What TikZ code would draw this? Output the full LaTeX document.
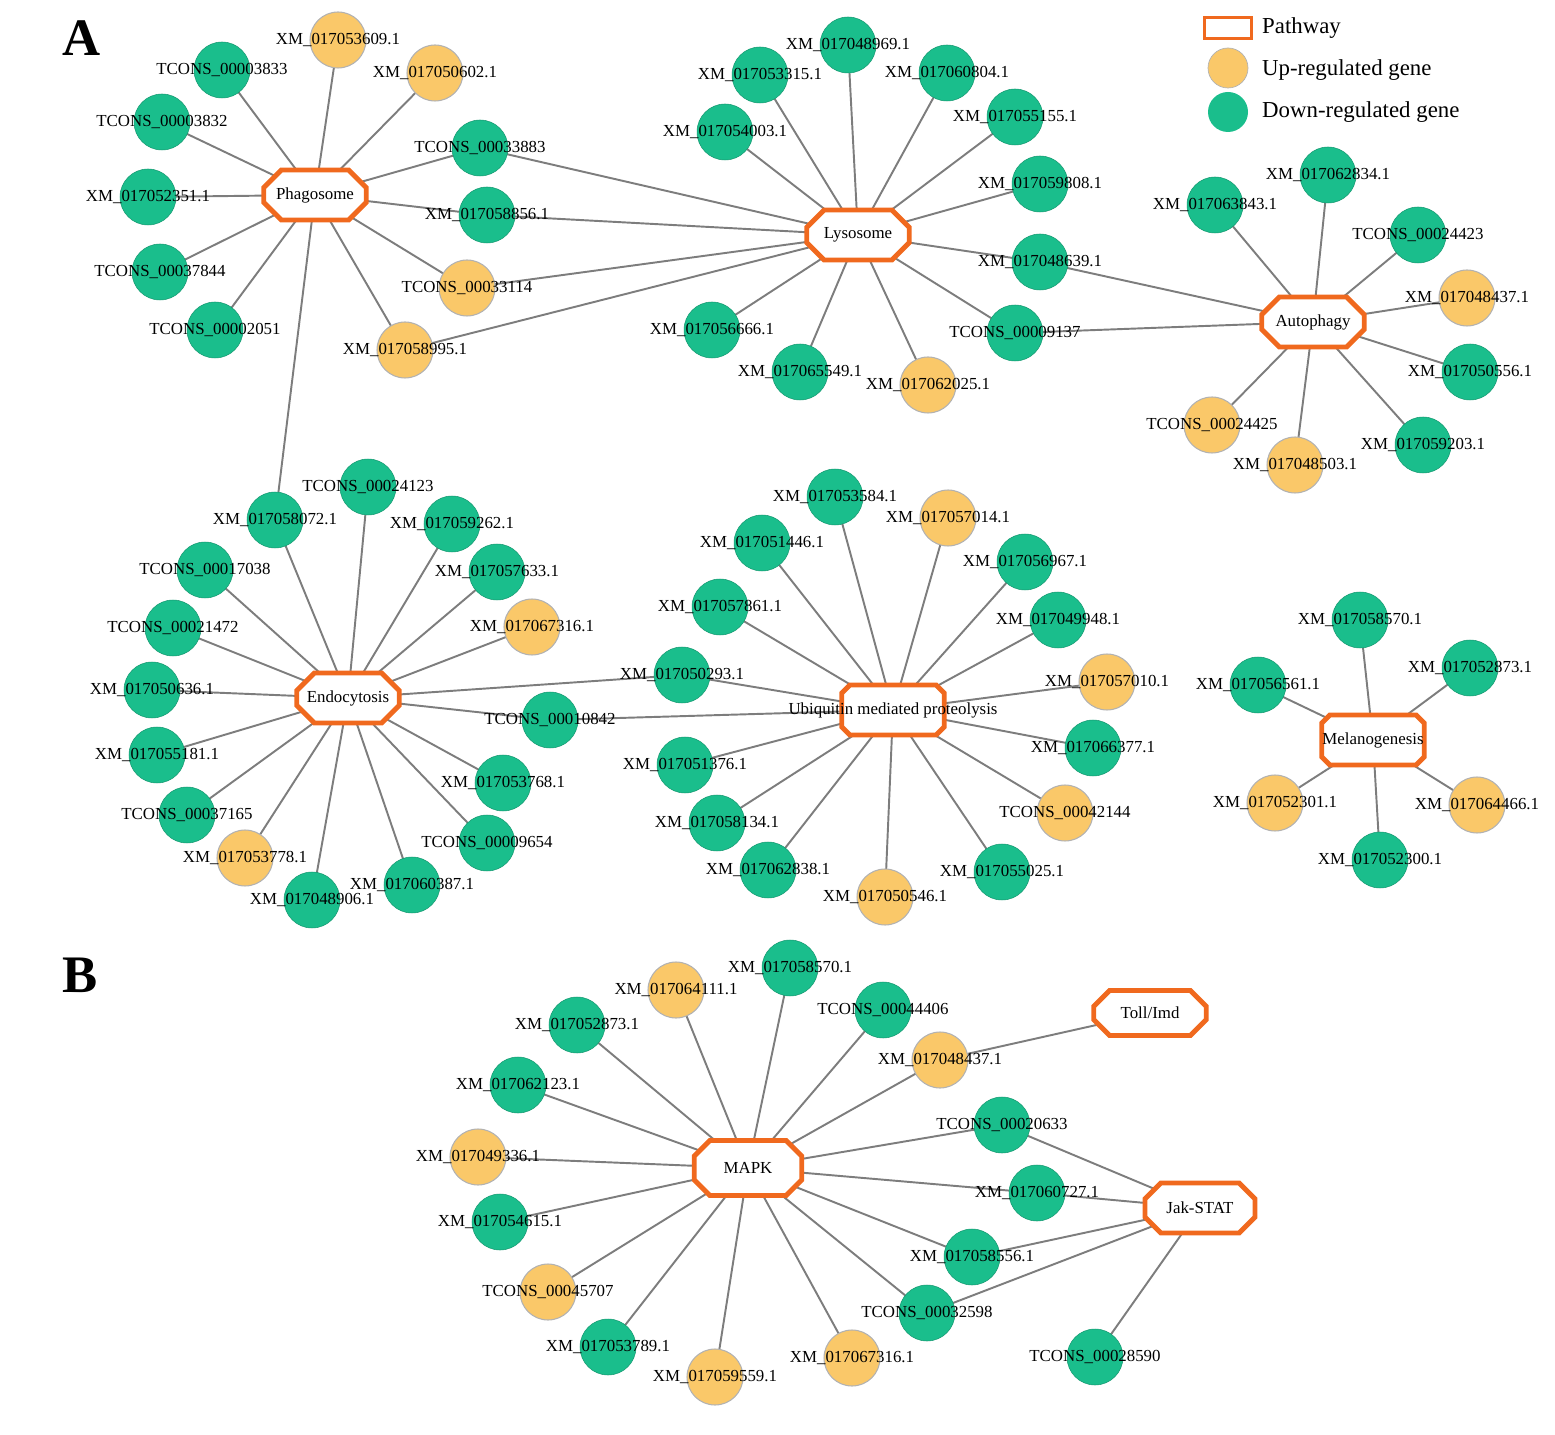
\documentclass[tikz,border=0pt]{standalone}
\usepackage{fontspec}
\setmainfont{Liberation Serif}
\usetikzlibrary{shapes.misc}
\pgfdeclarelayer{bg}\pgfsetlayers{bg,main}
\definecolor{dg}{RGB}{26,190,140}
\definecolor{og}{RGB}{250,200,105}
\definecolor{pw}{RGB}{240,105,30}
\definecolor{ed}{RGB}{125,125,125}
\tikzset{
 lbl/.style={font=\fontsize{9.6}{11}\selectfont, inner sep=0},
 g/.style={circle, fill=dg, draw=dg!80!black, line width=0.3pt, minimum size=1.12cm, inner sep=0, label={[lbl]center:#1}},
 o/.style={circle, fill=og, draw=black!30, line width=0.6pt, minimum size=1.12cm, inner sep=0, label={[lbl]center:#1}},
 pw/.style={chamfered rectangle, chamfered rectangle xsep=0.2cm, chamfered rectangle ysep=0.2cm, draw=pw, line width=2.8pt, fill=white, minimum width=2.05cm, minimum height=1.0cm, inner sep=0, font=\fontsize{9.6}{11}\selectfont},
 e/.style={draw=ed, line width=1.1pt}
}
\begin{document}
\begin{tikzpicture}[x=0.02cm,y=-0.02cm]
\useasboundingbox (0,0) rectangle (1555,1435);
\node[font=\fontsize{30}{32}\selectfont\bfseries] (LA) at (82,38) {A};
\node[font=\fontsize{30}{32}\selectfont\bfseries] (LB) at (80,975) {B};
% legend
\node[chamfered rectangle, chamfered rectangle xsep=0.1cm, chamfered rectangle ysep=0.1cm, draw=pw, line width=1.8pt, minimum width=0.95cm, minimum height=0.42cm, inner sep=0] (lg1) at (1228,28) {};
\node[anchor=west, font=\fontsize{13}{15}\selectfont] (lt1) at (1256,28) {Pathway};
\node[circle, fill=og, draw=black!30, minimum size=0.8cm, inner sep=0] (lg2) at (1228,68) {};
\node[anchor=west, font=\fontsize{13}{15}\selectfont] (lt2) at (1256,70) {Up-regulated gene};
\node[circle, fill=dg, minimum size=0.8cm, inner sep=0] (lg3) at (1228,112) {};
\node[anchor=west, font=\fontsize{13}{15}\selectfont] (lt3) at (1256,112) {Down-regulated gene};
% Phagosome
\node[pw] (P) at (315,195) {Phagosome};
\node[g=TCONS\_00003833] (a1) at (222,70) {};
\node[o=XM\_017053609.1] (a2) at (338,40) {};
\node[o=XM\_017050602.1] (a3) at (435,73) {};
\node[g=TCONS\_00003832] (a4) at (162,122) {};
\node[g=TCONS\_00033883] (a5) at (480,148) {};
\node[g=XM\_017052351.1] (a6) at (148,197) {};
\node[g=XM\_017058856.1] (a7) at (487,215) {};
\node[g=TCONS\_00037844] (a8) at (160,272) {};
\node[o=TCONS\_00033114] (a9) at (467,288) {};
\node[g=TCONS\_00002051] (a10) at (215,330) {};
\node[o=XM\_017058995.1] (a11) at (405,350) {};
% Lysosome
\node[pw] (L) at (858,235) {Lysosome};
\node[g=XM\_017048969.1] (b1) at (848,45) {};
\node[g=XM\_017053315.1] (b2) at (760,75) {};
\node[g=XM\_017060804.1] (b3) at (947,73) {};
\node[g=XM\_017054003.1] (b4) at (725,132) {};
\node[g=XM\_017055155.1] (b5) at (1015,117) {};
\node[g=XM\_017059808.1] (b6) at (1040,184) {};
\node[g=XM\_017048639.1] (b7) at (1040,262) {};
\node[g=XM\_017056666.1] (b8) at (712,330) {};
\node[g=XM\_017065549.1] (b9) at (800,372) {};
\node[o=XM\_017062025.1] (b10) at (928,385) {};
\node[g=TCONS\_00009137] (b11) at (1015,333) {};
% Autophagy
\node[pw] (Au) at (1313,322) {Autophagy};
\node[g=XM\_017062834.1] (c1) at (1328,175) {};
\node[g=XM\_017063843.1] (c2) at (1215,205) {};
\node[g=TCONS\_00024423] (c3) at (1418,235) {};
\node[o=XM\_017048437.1] (c4) at (1467,298) {};
\node[g=XM\_017050556.1] (c5) at (1470,372) {};
\node[g=XM\_017059203.1] (c6) at (1423,445) {};
\node[o=XM\_017048503.1] (c7) at (1295,465) {};
\node[o=TCONS\_00024425] (c8) at (1212,425) {};
% Endocytosis
\node[pw] (E) at (348,698) {Endocytosis};
\node[g=XM\_017058072.1] (d1) at (275,520) {};
\node[g=TCONS\_00024123] (d2) at (368,487) {};
\node[g=XM\_017059262.1] (d3) at (452,524) {};
\node[g=TCONS\_00017038] (d4) at (205,570) {};
\node[g=XM\_017057633.1] (d5) at (497,572) {};
\node[g=TCONS\_00021472] (d6) at (173,628) {};
\node[o=XM\_017067316.1] (d7) at (532,627) {};
\node[g=XM\_017050636.1] (d8) at (152,690) {};
\node[g=XM\_017050293.1] (d9) at (682,675) {};
\node[g=TCONS\_00010842] (d10) at (550,720) {};
\node[g=XM\_017055181.1] (d11) at (157,755) {};
\node[g=XM\_017053768.1] (d12) at (503,783) {};
\node[g=TCONS\_00037165] (d13) at (187,815) {};
\node[g=TCONS\_00009654] (d14) at (487,843) {};
\node[o=XM\_017053778.1] (d15) at (245,858) {};
\node[g=XM\_017060387.1] (d16) at (412,885) {};
\node[g=XM\_017048906.1] (d17) at (312,900) {};
% Ubiquitin
\node[g=XM\_017053584.1] (e1) at (835,497) {};
\node[o=XM\_017057014.1] (e2) at (948,518) {};
\node[g=XM\_017051446.1] (e3) at (762,543) {};
\node[g=XM\_017056967.1] (e4) at (1025,562) {};
\node[g=XM\_017057861.1] (e5) at (720,607) {};
\node[g=XM\_017049948.1] (e6) at (1058,620) {};
\node[o=XM\_017057010.1] (e7) at (1107,682) {};
\node[g=XM\_017066377.1] (e8) at (1093,748) {};
\node[g=XM\_017051376.1] (e9) at (685,765) {};
\node[o=TCONS\_00042144] (e10) at (1065,813) {};
\node[g=XM\_017058134.1] (e11) at (717,823) {};
\node[g=XM\_017055025.1] (e12) at (1002,872) {};
\node[g=XM\_017062838.1] (e13) at (768,870) {};
\node[o=XM\_017050546.1] (e14) at (885,897) {};
\node[pw, text=white] (U) at (893,710) {\phantom{x}};
\node[lbl] (Ut) at (893,710) {Ubiquitin mediated proteolysis};
% Melanogenesis
\node[g=XM\_017058570.1] (f1) at (1360,620) {};
\node[g=XM\_017056561.1] (f2) at (1258,685) {};
\node[g=XM\_017052873.1] (f3) at (1470,668) {};
\node[o=XM\_017052301.1] (f4) at (1275,803) {};
\node[o=XM\_017064466.1] (f5) at (1477,805) {};
\node[g=XM\_017052300.1] (f6) at (1380,860) {};
\node[pw, text=white] (M) at (1373,740) {\phantom{x}};
\node[lbl] (Mt) at (1373,740) {Melanogenesis};
% B
\node[pw, minimum width=2.15cm, minimum height=1.1cm] (K) at (748,1168) {MAPK};
\node[g=XM\_017058570.1] (g1) at (790,968) {};
\node[o=XM\_017064111.1] (g2) at (676,990) {};
\node[g=TCONS\_00044406] (g3) at (883,1010) {};
\node[g=XM\_017052873.1] (g4) at (577,1025) {};
\node[o=XM\_017048437.1] (g5) at (940,1060) {};
\node[g=XM\_017062123.1] (g6) at (518,1085) {};
\node[g=TCONS\_00020633] (g7) at (1002,1125) {};
\node[o=XM\_017049336.1] (g8) at (478,1157) {};
\node[g=XM\_017060727.1] (g9) at (1037,1193) {};
\node[g=XM\_017054615.1] (g10) at (500,1222) {};
\node[g=XM\_017058556.1] (g11) at (972,1257) {};
\node[o=TCONS\_00045707] (g12) at (548,1292) {};
\node[g=TCONS\_00032598] (g13) at (927,1313) {};
\node[g=XM\_017053789.1] (g14) at (608,1347) {};
\node[o=XM\_017059559.1] (g15) at (715,1377) {};
\node[o=XM\_017067316.1] (g16) at (852,1358) {};
\node[pw, minimum width=2.25cm, minimum height=0.9cm] (T) at (1150,1013) {Toll/Imd};
\node[pw, minimum width=2.2cm] (J) at (1200,1208) {Jak-STAT};
\node[g=TCONS\_00028590] (h1) at (1095,1357) {};
\begin{pgfonlayer}{bg}
\foreach \a/\b in {P/a1,P/a2,P/a3,P/a4,P/a5,P/a6,P/a7,P/a8,P/a9,P/a10,P/a11,
 L/a5,L/a7,L/a9,L/a11,L/b1,L/b2,L/b3,L/b4,L/b5,L/b6,L/b7,L/b8,L/b9,L/b10,L/b11,
 Au/b7,Au/b11,Au/c1,Au/c2,Au/c3,Au/c4,Au/c5,Au/c6,Au/c7,Au/c8,
 P/d1,E/d1,E/d2,E/d3,E/d4,E/d5,E/d6,E/d7,E/d8,E/d9,E/d10,E/d11,E/d12,E/d13,E/d14,E/d15,E/d16,E/d17,
 U/d9,U/d10,U/e1,U/e2,U/e3,U/e4,U/e5,U/e6,U/e7,U/e8,U/e9,U/e10,U/e11,U/e12,U/e13,U/e14,
 M/f1,M/f2,M/f3,M/f4,M/f5,M/f6,
 K/g1,K/g2,K/g3,K/g4,K/g5,K/g6,K/g7,K/g8,K/g9,K/g10,K/g11,K/g12,K/g13,K/g14,K/g15,K/g16,
 T/g5,J/g7,J/g9,J/g11,J/g13,J/h1}
 \draw[e] (\a.center) -- (\b.center);
\end{pgfonlayer}
\end{tikzpicture}
\end{document}
